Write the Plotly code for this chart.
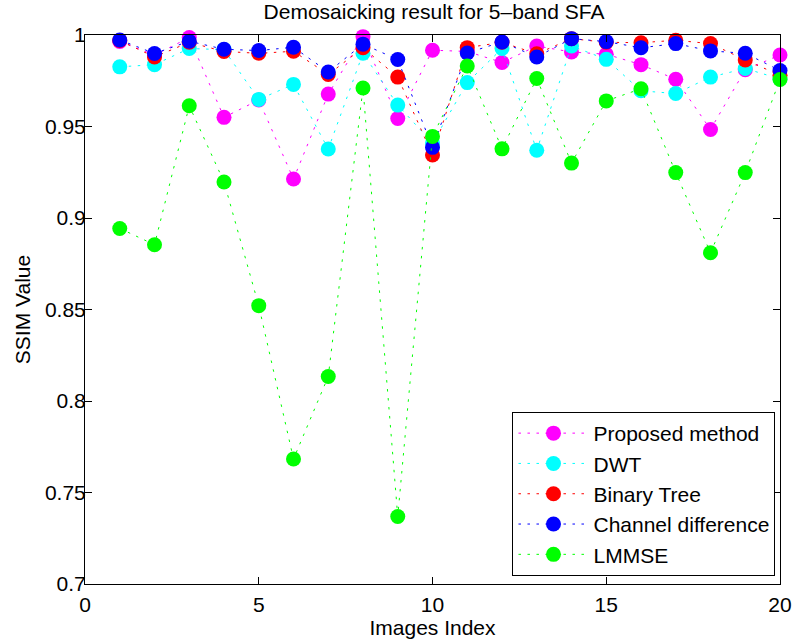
import plotly.graph_objects as go

images = list(range(1, 21))

proposed = [0.9965, 0.989, 0.9986, 0.955, 0.9645, 0.9213, 0.9677, 0.9991, 0.9544, 0.9917,
            0.991, 0.985, 0.994, 0.9907, 0.9895, 0.9838, 0.9758, 0.9484, 0.981, 0.9891]
dwt = [0.9826, 0.9838, 0.9926, 0.992, 0.9648, 0.973, 0.9377, 0.990, 0.9617, 0.941,
       0.974, 0.9926, 0.937, 0.994, 0.9867, 0.9695, 0.968, 0.977, 0.9817, 0.976]
binary_tree = [0.997, 0.988, 0.996, 0.991, 0.990, 0.9911, 0.9784, 0.993, 0.977, 0.9344,
               0.9931, 0.996, 0.9897, 0.998, 0.996, 0.9958, 0.9971, 0.9953, 0.9864, 0.978]
channel_diff = [0.9973, 0.9899, 0.9966, 0.9922, 0.9915, 0.9933, 0.9798, 0.995, 0.9866, 0.9386,
                0.9902, 0.9962, 0.988, 0.998, 0.9964, 0.993, 0.9953, 0.9913, 0.990, 0.9806]
lmmse = [0.8943, 0.8854, 0.9613, 0.9197, 0.8521, 0.7683, 0.8134, 0.971, 0.7369, 0.9446,
         0.9831, 0.9378, 0.9762, 0.930, 0.964, 0.9706, 0.9248, 0.881, 0.9248, 0.9757]

series = [
    ("Proposed method", proposed, "#ff00ff"),
    ("DWT", dwt, "#00ffff"),
    ("Binary Tree", binary_tree, "#ff0000"),
    ("Channel difference", channel_diff, "#0000ff"),
    ("LMMSE", lmmse, "#00ff00"),
]

FONT = "Liberation Sans, Arial, Helvetica, sans-serif"
FS = 21

fig = go.Figure()
for name, vals, col in series:
    fig.add_trace(go.Scatter(
        x=images, y=vals, name=name, mode="lines+markers",
        line=dict(color=col, width=1, dash="2.5px,6.5px"),
        marker=dict(color=col, size=15, line=dict(width=0)),
        cliponaxis=False,
    ))

W, H = 792, 644
L, R, T, B = 85, 11.5, 35.3, 60

fig.update_layout(
    width=W, height=H,
    margin=dict(l=L, r=R, t=T, b=B, pad=0),
    paper_bgcolor="white", plot_bgcolor="white",
    font=dict(family=FONT, size=FS, color="black"),
    title=dict(text="Demosaicking result for 5\u2013band SFA", x=434 / W, xanchor="center",
               y=1 - 12 / H, yanchor="middle", yref="container",
               font=dict(family=FONT, size=FS, color="black")),
    showlegend=True,
    legend=dict(x=0.9935, xanchor="right", y=0.0146, yanchor="bottom",
                bgcolor="white", bordercolor="black", borderwidth=1,
                font=dict(family=FONT, size=FS, color="black"),
                tracegroupgap=0, itemwidth=70),
)
fig.update_xaxes(
    range=[0, 20], tickmode="array", tickvals=[0, 5, 10, 15, 20],
    ticks="inside", ticklen=7, tickcolor="black", tickwidth=1,
    showline=True, linecolor="black", linewidth=1, mirror="ticks",
    showgrid=False, zeroline=False, ticklabelstandoff=2, automargin=False,
    title=dict(text="Images Index", standoff=4, font=dict(family=FONT, size=FS)),
)
fig.update_yaxes(
    range=[0.7, 1], tickmode="array",
    tickvals=[0.7, 0.75, 0.8, 0.85, 0.9, 0.95, 1],
    ticktext=["0.7", "0.75", "0.8", "0.85", "0.9", "0.95", "1"],
    ticks="inside", ticklen=7, tickcolor="black", tickwidth=1,
    showline=True, linecolor="black", linewidth=1, mirror="ticks",
    showgrid=False, zeroline=False, ticklabelstandoff=-6, automargin=False,
    title=dict(text="SSIM Value", standoff=8, font=dict(family=FONT, size=FS)),
)

fig.write_html("out.html", config={"displayModeBar": False},
               post_script="document.body.style.margin='0';")
